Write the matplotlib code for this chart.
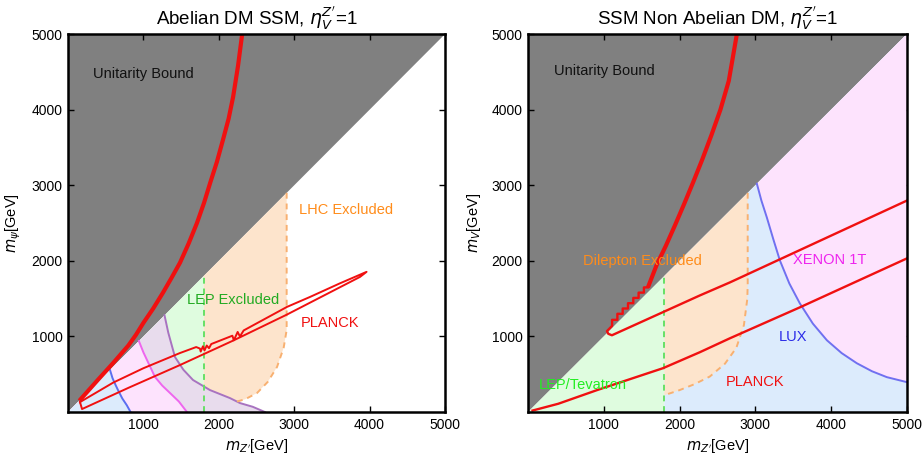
"""Recreate the two-panel dark-matter exclusion plot (Abelian vs non-Abelian SSM)."""

import matplotlib.pyplot as plt
from matplotlib.patches import Polygon

plt.rcParams["font.family"] = ["Liberation Sans", "DejaVu Sans"]
plt.rcParams["mathtext.fontset"] = "dejavusans"

# ---------------------------------------------------------------- data (GeV)
AXIS_MAX = 5000
TICKS = [1000, 2000, 3000, 4000, 5000]
LEP_MASS = 1800

# Left panel: Abelian DM SSM
LEFT_BLUE_X = [557, 590, 630, 663, 720, 780, 830]
LEFT_BLUE_Y = [557, 450, 360, 291, 180, 90, 0]
LEFT_MAGENTA_X = [940, 1000, 1080, 1154, 1250, 1353, 1470, 1578]
LEFT_MAGENTA_Y = [940, 790, 620, 464, 350, 252, 140, 0]
LEFT_PURPLE_X = [1280, 1330, 1419, 1530, 1658, 1883, 2148, 2281, 2450, 2613]
LEFT_PURPLE_Y = [1280, 1050, 728, 560, 424, 291, 185, 119, 70, 0]
LHC_EDGE_X = [2900, 2900, 2860, 2772, 2650, 2507, 2350, 2215]
LHC_EDGE_Y = [2900, 1086, 850, 596, 400, 252, 170, 132]
LEFT_RELIC_X = [150, 400, 600, 800, 900, 1000, 1130, 1260, 1370, 1485, 1600, 1710,
                1805, 1885, 1975, 2055, 2130, 2190, 2255, 2310]
LEFT_RELIC_Y = [150, 430, 650, 880, 1020, 1180, 1370, 1580, 1770, 1975, 2230, 2500,
                2770, 3030, 3310, 3600, 3880, 4170, 4580, 5000]
PLANCK_UPPER_X = [159, 600, 1000, 1485, 1700, 1750, 1760, 1790, 1810, 1840, 1870,
                  1900, 2180, 2200, 2250, 2280, 2330, 2904, 3210, 3600, 3960]
PLANCK_UPPER_Y = [132, 390, 580, 781, 860, 840, 800, 870, 815, 880, 845,
                  900, 1010, 950, 1060, 1000, 1080, 1391, 1523, 1700, 1855]
PLANCK_LOWER_X = [3873, 2904, 2200, 1485, 800, 186, 159]
PLANCK_LOWER_Y = [1788, 1290, 950, 622, 320, 40, 132]

# Right panel: SSM non-Abelian DM
LUX_X = [3021, 3080, 3153, 3240, 3325, 3450, 3588, 3760, 3945, 4140, 4340, 4540,
         4736, 5000]
LUX_Y = [3021, 2800, 2573, 2280, 2005, 1700, 1438, 1170, 950, 780, 646, 540,
         462, 396]
DILEPTON_EDGE_X = [2900, 2900, 2895, 2850, 2750, 2600, 2400, 2200, 2000, 1820, 1800]
DILEPTON_EDGE_Y = [2900, 1700, 1500, 1150, 850, 640, 470, 370, 290, 230, 220]
RIGHT_RELIC_X = [1583, 1700, 1820, 1940, 2060, 2180, 2300, 2420, 2540, 2650, 2757]
RIGHT_RELIC_Y = [1649, 1950, 2200, 2470, 2750, 3040, 3340, 3660, 4000, 4380, 5000]
RIGHT_UPPER_X = [1583, 1530, 1530, 1460, 1460, 1390, 1390, 1320, 1320, 1250, 1250,
                 1180, 1180, 1110, 1110, 1042, 1060, 1108, 2269, 2665, 5000]
RIGHT_UPPER_Y = [1649, 1649, 1580, 1580, 1510, 1510, 1440, 1440, 1370, 1370, 1300,
                 1300, 1220, 1220, 1140, 1070, 1035, 1016, 1543, 1715, 2797]
RIGHT_LOWER_X = [60, 400, 910, 1300, 1781, 2269, 2665, 3588, 5000]
RIGHT_LOWER_Y = [20, 110, 290, 420, 580, 792, 976, 1385, 2032]

GRAY = "#808080"
GREEN_FILL = "#dffcdf"
PEACH_FILL = "#fde4cc"
BLUE_FILL = "#dcebfc"
PINK_FILL = "#fde3fd"
LAVENDER_FILL = "#e8dced"
RED = "#f01010"


def fill(ax, xs, ys, color, z):
    ax.add_patch(Polygon(list(zip(xs, ys)), closed=True, facecolor=color,
                         edgecolor="none", zorder=z))


def style_axes(ax, title, ylabel):
    ax.set_xlim(0, AXIS_MAX)
    ax.set_ylim(0, AXIS_MAX)
    ax.set_xticks(TICKS)
    ax.set_yticks(TICKS)
    ax.tick_params(direction="in", length=4, width=1, labelsize=10,
                   top=True, right=True, pad=4)
    for spine in ax.spines.values():
        spine.set_linewidth(1.8)
        spine.set_zorder(10)
    ax.set_title(title, fontsize=13.5, pad=7)
    ax.set_xlabel(r"$m_{Z'}$[GeV]", fontsize=10.5, labelpad=4)
    ax.set_ylabel(ylabel, fontsize=10.5, labelpad=6)


def draw_abelian(ax):
    # unitarity bound above the diagonal
    fill(ax, [0, AXIS_MAX, 0], [0, AXIS_MAX, AXIS_MAX], GRAY, 1)
    fill(ax, [0, LEP_MASS, LEP_MASS], [0, LEP_MASS, 0], GREEN_FILL, 1)
    fill(ax, [LEP_MASS] + LHC_EDGE_X + [2215, LEP_MASS],
         [LEP_MASS] + LHC_EDGE_Y + [0, 0], PEACH_FILL, 2)
    fill(ax, [0] + LEFT_PURPLE_X, [0] + LEFT_PURPLE_Y, LAVENDER_FILL, 3)
    fill(ax, [0] + LEFT_MAGENTA_X, [0] + LEFT_MAGENTA_Y, PINK_FILL, 4)
    fill(ax, [0] + LEFT_BLUE_X, [0] + LEFT_BLUE_Y, BLUE_FILL, 5)

    ax.plot(LEFT_PURPLE_X, LEFT_PURPLE_Y, color="#a873c0", lw=1.4, zorder=6)
    ax.plot(LEFT_MAGENTA_X, LEFT_MAGENTA_Y, color="#ee66ee", lw=1.4, zorder=6)
    ax.plot(LEFT_BLUE_X, LEFT_BLUE_Y, color="#5a6ef0", lw=1.4, zorder=6)
    ax.plot([LEP_MASS, LEP_MASS], [0, LEP_MASS], color="#66e066", lw=1.4,
            ls=(0, (3, 2.5)), zorder=6)
    ax.plot(LHC_EDGE_X, LHC_EDGE_Y, color="#f8b070", lw=1.4,
            ls=(0, (3, 2.5)), zorder=6)

    ax.plot(PLANCK_UPPER_X + PLANCK_LOWER_X, PLANCK_UPPER_Y + PLANCK_LOWER_Y,
            color=RED, lw=1.4, zorder=7)
    ax.plot(LEFT_RELIC_X, LEFT_RELIC_Y, color=RED, lw=3.0, zorder=7,
            solid_capstyle="butt", solid_joinstyle="round")

    ax.text(330, 4470, "Unitarity Bound", fontsize=10.5, color="#111111",
            va="center", zorder=8)
    ax.text(3064, 2672, "LHC Excluded", fontsize=10.5, color="#ff8c1a",
            va="center", zorder=8)
    ax.text(1578, 1481, "LEP Excluded", fontsize=10.5, color="#22aa22",
            va="center", zorder=8)
    ax.text(3090, 1177, "PLANCK", fontsize=10.5, color=RED,
            va="center", zorder=8)


def draw_non_abelian(ax):
    fill(ax, [0, AXIS_MAX, 0], [0, AXIS_MAX, AXIS_MAX], GRAY, 1)
    fill(ax, [0, LEP_MASS, LEP_MASS], [0, LEP_MASS, 0], GREEN_FILL, 1)
    fill(ax, [LEP_MASS, LEP_MASS, AXIS_MAX, AXIS_MAX],
         [0, LEP_MASS, AXIS_MAX, 0], BLUE_FILL, 1)
    fill(ax, LUX_X + [AXIS_MAX], LUX_Y + [AXIS_MAX], PINK_FILL, 2)
    fill(ax, [LEP_MASS] + DILEPTON_EDGE_X, [LEP_MASS] + DILEPTON_EDGE_Y,
         PEACH_FILL, 3)

    ax.plot(LUX_X, LUX_Y, color="#7070f0", lw=1.4, zorder=6,
            solid_joinstyle="round")
    ax.plot([LEP_MASS, LEP_MASS], [0, LEP_MASS], color="#66e066", lw=1.4,
            ls=(0, (3, 2.5)), zorder=6)
    ax.plot(DILEPTON_EDGE_X, DILEPTON_EDGE_Y, color="#f8b070", lw=1.4,
            ls=(0, (3, 2.5)), zorder=6)

    ax.plot(RIGHT_UPPER_X, RIGHT_UPPER_Y, color=RED, lw=1.7, zorder=7)
    ax.plot(RIGHT_LOWER_X, RIGHT_LOWER_Y, color=RED, lw=1.7, zorder=7,
            solid_joinstyle="round")
    ax.plot(RIGHT_RELIC_X, RIGHT_RELIC_Y, color=RED, lw=3.0, zorder=7,
            solid_capstyle="butt", solid_joinstyle="round")

    ax.text(343, 4512, "Unitarity Bound", fontsize=10.5, color="#111111",
            va="center", zorder=8)
    ax.text(726, 1992, "Dilepton Excluded", fontsize=10.5, color="#ff8c1a",
            va="center", zorder=8)
    ax.text(3496, 2005, "XENON 1T", fontsize=10.5, color="#ee22ee",
            va="center", zorder=8)
    ax.text(3311, 990, "LUX", fontsize=10.5, color="#2a2ae8",
            va="center", zorder=8)
    ax.text(2612, 396, "PLANCK", fontsize=10.5, color=RED,
            va="center", zorder=8)
    ax.text(145, 356, "LEP/Tevatron", fontsize=10.5, color="#22ee22",
            va="center", zorder=8)


fig = plt.figure(figsize=(9.24, 4.63), dpi=100)
left_ax = fig.add_axes([0.0736, 0.110, 0.408, 0.8164])
right_ax = fig.add_axes([0.5714, 0.110, 0.410, 0.8164])

draw_abelian(left_ax)
style_axes(left_ax, r"Abelian DM SSM, $\eta_V^{Z'}$=1", r"$m_\psi$[GeV]")
draw_non_abelian(right_ax)
style_axes(right_ax, r"SSM Non Abelian DM, $\eta_V^{Z'}$=1", r"$m_V$[GeV]")

fig.savefig("out.png", dpi=100)
